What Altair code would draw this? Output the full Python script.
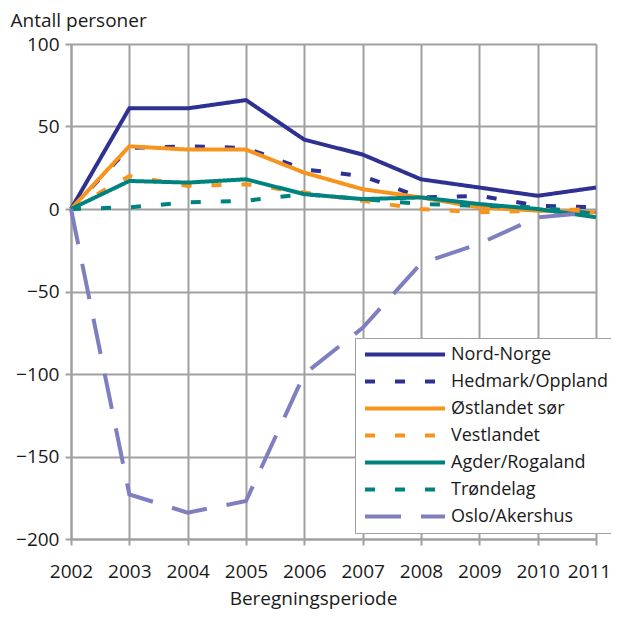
import altair as alt
import pandas as pd

years = [2002, 2003, 2004, 2005, 2006, 2007, 2008, 2009, 2010, 2011]
series_names = ["Nord-Norge", "Hedmark/Oppland", "Østlandet sør", "Vestlandet",
                "Agder/Rogaland", "Trøndelag", "Oslo/Akershus"]
nord_norge = [0, 61, 61, 66, 42, 33, 18, 13, 8, 13]
hedmark_oppland = [0, 37, 38, 37, 24, 20, 7, 8, 2, 1]
ostlandet_sor = [0, 38, 36, 36, 22, 12, 7, 1, -1, -2]
vestlandet = [0, 20, 14, 15, 10, 5, 0, -2, -1, 0]
agder_rogaland = [0, 17, 16, 18, 9, 6, 7, 3, 0, -5]
trondelag = [0, 1, 4, 5, 9, 6, 3, 2, 1, -3]
oslo_akershus = [0, -173, -184, -177, -100, -72, -33, -21, -5, -2]
y_ticks = [-200, -150, -100, -50, 0, 50, 100]

colors = ["#2e3192", "#2e3192", "#f7941d", "#f7941d", "#00827f", "#00827f", "#7f7fc0"]
dashes = [[1, 0], [10, 20], [1, 0], [10, 20], [1, 0], [10, 20], [36, 20]]

all_values = [nord_norge, hedmark_oppland, ostlandet_sor, vestlandet,
              agder_rogaland, trondelag, oslo_akershus]
rows = []
for name, vals in zip(series_names, all_values):
    for yr, v in zip(years, vals):
        rows.append({"year": yr, "value": v, "series": name})
df = pd.DataFrame(rows)

FONT = "Open Sans"
GRID = "#a0a0a0"
TXT = "#1a1a1a"

legend_opts = dict(title=None, orient="none", legendX=284, legendY=294,
                   symbolType="stroke", symbolSize=6400, symbolOffset=5,
                   symbolStrokeWidth=4, clipHeight=27,
                   labelFontSize=18, labelOffset=4, rowPadding=0,
                   padding=3, strokeColor=GRID, fillColor="white",
                   labelLimit=300)

chart = alt.Chart(df).mark_line(strokeWidth=4, strokeCap="butt", strokeJoin="miter").encode(
    x=alt.X("year:Q",
            scale=alt.Scale(domain=[2002, 2011], nice=False, zero=False),
            axis=alt.Axis(values=years, format="d", title="Beregningsperiode",
                          titleX=242, titleY=65, titleBaseline="alphabetic",
                          titleFontSize=19, titleFontWeight="normal",
                          labelFontSize=19, labelPadding=17, tickSize=6,
                          labelFlush=False,
                          labelExpr="datum.value == 2011 ? datum.label + '\u2007\u2009\u200b' : datum.label")),
    y=alt.Y("value:Q",
            scale=alt.Scale(domain=[-200, 100], nice=False),
            axis=alt.Axis(values=y_ticks, title="Antall personer",
                          titleAngle=0, titleX=-61, titleY=-18, titleAlign="left",
                          titleBaseline="alphabetic", titleFontSize=19,
                          titleFontWeight="normal",
                          labelFontSize=19, labelPadding=6, tickSize=6)),
    color=alt.Color("series:N",
                    scale=alt.Scale(domain=series_names, range=colors),
                    legend=alt.Legend(**legend_opts)),
    strokeDash=alt.StrokeDash("series:N",
                              scale=alt.Scale(domain=series_names, range=dashes),
                              legend=alt.Legend(**legend_opts)),
    order=alt.Order("year:Q"),
).properties(
    width=525, height=495,
    autosize=alt.AutoSizeParams(type="none"),
    padding={"left": 63, "top": 36, "right": 15, "bottom": 70},
).configure_view(
    stroke=None
).configure_axis(
    grid=True, gridColor=GRID, gridWidth=2, gridOpacity=1,
    domainColor=GRID, domainWidth=2, tickColor=GRID, tickWidth=2,
    labelColor=TXT, titleColor=TXT,
    labelFont=FONT, titleFont=FONT,
).configure_legend(
    labelFont=FONT, labelColor=TXT
)

chart.save("out.html", embed_options={"renderer": "svg", "actions": False})
